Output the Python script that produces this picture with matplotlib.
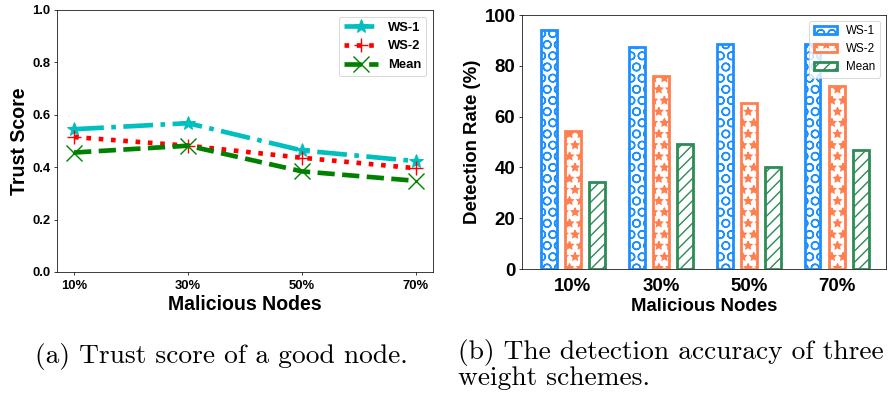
import numpy as np
import matplotlib
matplotlib.use('Agg')
import matplotlib.pyplot as plt

# data
nodes = ['10%', '30%', '50%', '70%']
ws1_trust = [0.545, 0.568, 0.464, 0.423]
ws2_trust = [0.515, 0.482, 0.436, 0.396]
mean_trust = [0.456, 0.482, 0.384, 0.348]

ws1_rate = [94.2, 87.3, 88.5, 88.5]
ws2_rate = [54.2, 76.1, 65.4, 72.0]
mean_rate = [34.3, 49.1, 40.2, 47.0]

caption_a = '(a) Trust score of a good node.'
caption_b1 = '(b) The detection accuracy of three'
caption_b2 = 'weight schemes.'

plt.rcParams['font.family'] = ['Liberation Sans', 'DejaVu Sans']
plt.rcParams['hatch.linewidth'] = 1.5

DPI = 67
fig = plt.figure(figsize=(889 / DPI, 401 / DPI), dpi=DPI)

# ---- (a) line chart
ax1 = fig.add_axes([57 / 889, 1 - 272 / 401, (433 - 57) / 889, (272 - 10) / 401])
x = np.arange(len(nodes))
ax1.plot(x, ws1_trust, color='c', linestyle='-.', linewidth=5, marker='*', markersize=15, label='WS-1')
ax1.plot(x, ws2_trust, color='r', linestyle=':', linewidth=5, marker='+', markersize=16, markeredgewidth=1.5, label='WS-2')
ax1.plot(x, mean_trust, color='g', linestyle='--', linewidth=5, marker='x', markersize=17, markeredgewidth=1.5, label='Mean')
ax1.set_ylim(0, 1.0)
ax1.set_yticks(np.arange(0, 1.01, 0.2))
ax1.set_xticks(x)
ax1.set_xticklabels(nodes)
for lab in ax1.get_xticklabels() + ax1.get_yticklabels():
    lab.set_fontweight('bold')
    lab.set_fontsize(14)
ax1.tick_params(axis='x', pad=5)
ax1.set_xlabel('Malicious Nodes', fontsize=21, fontweight='bold', labelpad=3)
ax1.set_ylabel('Trust Score', fontsize=21, fontweight='bold')
ax1.legend(loc='upper right', prop={'weight': 'bold', 'size': 14}, handlelength=2.6)

# ---- (b) bar chart
ax2 = fig.add_axes([522 / 889, 1 - 269 / 401, (886 - 522) / 889, (269 - 15) / 401])
w = 0.18
off = 0.275
ax2.bar(x - off, ws1_rate, w, color='white', edgecolor='#1e8fff', linewidth=3, hatch='O', label='WS-1')
ax2.bar(x, ws2_rate, w, color='white', edgecolor='#ff7f50', linewidth=3, hatch='*', label='WS-2')
ax2.bar(x + off, mean_rate, w, color='white', edgecolor='#2e8b57', linewidth=3, hatch='//', label='Mean')
ax2.set_ylim(0, 100)
ax2.set_xlim(-0.58, 3.56)
ax2.set_xticks(x)
ax2.set_xticklabels(nodes)
for lab in ax2.get_xticklabels() + ax2.get_yticklabels():
    lab.set_fontweight('bold')
    lab.set_fontsize(20)
ax2.tick_params(axis='x', length=0, pad=10)
ax2.set_xlabel('Malicious Nodes', fontsize=20, fontweight='bold', labelpad=3)
ax2.set_ylabel('Detection Rate (%)', fontsize=20, fontweight='bold')
ax2.legend(loc='upper right', fontsize=12.5)

# captions
fig.text(35 / 889, 1 - 363 / 401, caption_a, family='cmr10', fontsize=29.5, va='baseline')
fig.text(458 / 889, 1 - 359 / 401, caption_b1, family='cmr10', fontsize=29.5, va='baseline')
fig.text(458 / 889, 1 - 385 / 401, caption_b2, family='cmr10', fontsize=29.5, va='baseline')

fig.savefig('out.png', dpi=DPI)
